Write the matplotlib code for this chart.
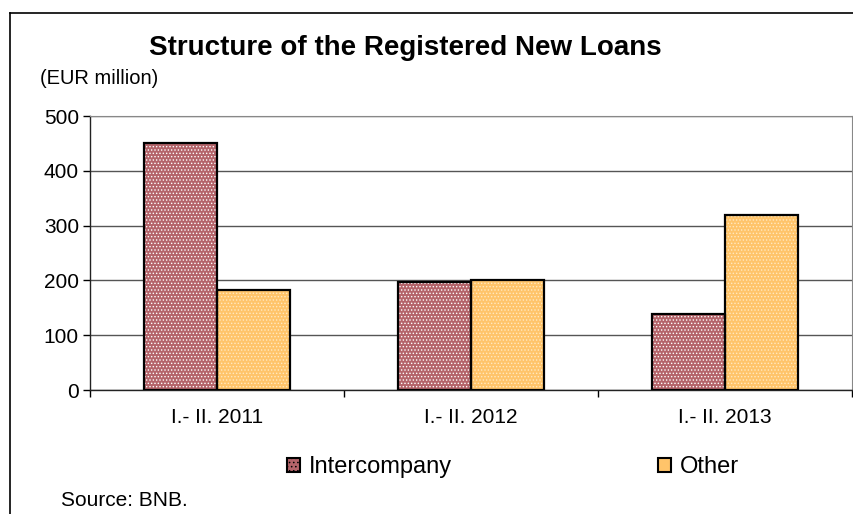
import matplotlib.pyplot as plt
from matplotlib.lines import Line2D
import numpy as np

# data (EUR million)
categories = ['I.- II. 2011', 'I.- II. 2012', 'I.- II. 2013']
intercompany = [450, 197, 139]
other = [182, 200, 319]

plt.rcParams['font.family'] = ['Liberation Sans', 'DejaVu Sans']
plt.rcParams['hatch.linewidth'] = 0.6

fig = plt.figure(figsize=(8.54, 5.14), dpi=100)
ax = fig.add_axes([90 / 854, 1 - 390 / 514, 762 / 854, 274 / 514])

x = np.arange(len(categories))
w = 0.287

# fills with fine white check, then black outlines on top
ax.bar(x - w / 2, intercompany, w, color='#B4646A', edgecolor='white',
       linewidth=0, hatch='.....', zorder=2)
ax.bar(x + w / 2, other, w, color='#FFC46A', edgecolor='#FFE9C0',
       linewidth=0, hatch='.....', zorder=2)
ax.bar(x - w / 2, intercompany, w, facecolor='none', edgecolor='black',
       linewidth=1.6, zorder=3)
ax.bar(x + w / 2, other, w, facecolor='none', edgecolor='black',
       linewidth=1.6, zorder=3)

ax.set_xlim(-0.5, 2.5)
ax.set_ylim(0, 500)
ax.set_yticks(range(0, 501, 100))
ax.tick_params(axis='y', labelsize=15, length=5, width=1, pad=3)
ax.yaxis.grid(True, color='#555555', linewidth=1)
ax.set_axisbelow(True)

ax.set_xticks(x)
ax.set_xticklabels(categories, fontsize=15)
ax.tick_params(axis='x', length=0, pad=13)
ax.set_xticks([-0.5, 0.5, 1.5, 2.5], minor=True)
ax.tick_params(axis='x', which='minor', length=5, width=1, direction='out')

for s in ['top', 'right']:
    ax.spines[s].set_color('#888888')
for s in ['left', 'bottom']:
    ax.spines[s].set_color('#222222')
    ax.spines[s].set_linewidth(1)

fig.text(405 / 854, 1 - 48 / 514, 'Structure of the Registered New Loans',
         ha='center', va='center', fontsize=20, fontweight='bold')
fig.text(40 / 854, 1 - 78 / 514, '(EUR million)', ha='left', va='center',
         fontsize=14.5)
fig.text(61 / 854, 1 - 501 / 514, 'Source: BNB.', ha='left', va='center',
         fontsize=15)

handles = [
    plt.Rectangle((0, 0), 1, 1, facecolor='#B4646A', edgecolor='black',
                  linewidth=1.5, hatch='....'),
    plt.Rectangle((0, 0), 1, 1, facecolor='#FFC46A', edgecolor='black',
                  linewidth=1.5),
]
fig.legend(handles, ['Intercompany', 'Other'], loc='center',
           bbox_to_anchor=(513 / 854, 1 - 467 / 514), ncol=2, frameon=False,
           fontsize=17, handlelength=0.55, handleheight=0.55,
           handletextpad=0.4, columnspacing=8.7)

# outer frame of the chart (left and top edges visible)
fig.add_artist(Line2D([10 / 854, 10 / 854], [0, 1 - 13 / 514],
                      color='black', linewidth=1.2, transform=fig.transFigure))
fig.add_artist(Line2D([10 / 854, 1], [1 - 13 / 514, 1 - 13 / 514],
                      color='black', linewidth=1.2, transform=fig.transFigure))

plt.savefig('out.png', dpi=100)
